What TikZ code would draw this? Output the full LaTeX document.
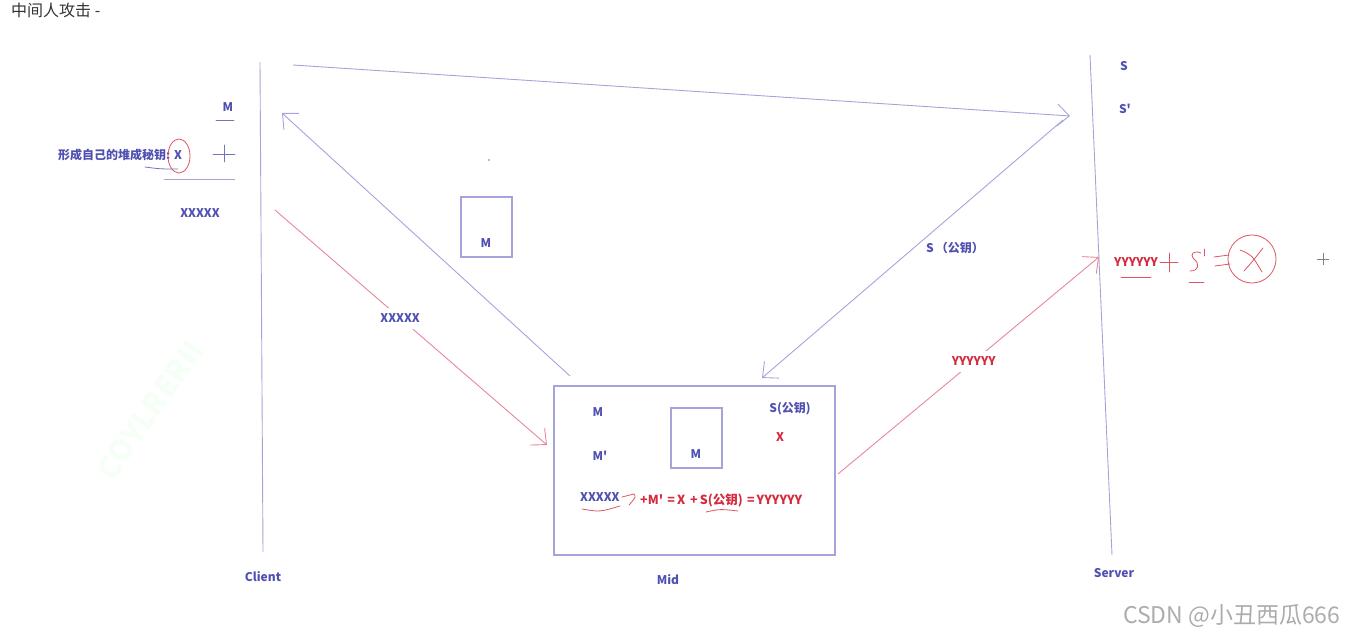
\documentclass[tikz,border=0pt]{standalone}
\usepackage{fontspec}
\setmainfont{Noto Sans CJK SC}[Ligatures=TeXOff]
\usetikzlibrary{arrows.meta}
\definecolor{tb}{HTML}{5050B2}
\definecolor{lb}{HTML}{A4A4DA}
\definecolor{tr}{HTML}{D42A3C}
\definecolor{lr}{HTML}{E6889A}
\definecolor{tg}{HTML}{333333}
\tikzset{
  lbl/.style={font=\bfseries\fontsize{12}{14}\selectfont, text=tb, inner sep=1pt},
  rlbl/.style={lbl, text=tr},
  bline/.style={draw=lb, line width=0.9pt},
  rline/.style={draw=lr, line width=0.9pt},
  barrow/.style={bline, -{Straight Barb[length=12pt,width=22pt]}},
  rarrow/.style={rline, -{Straight Barb[length=12pt,width=22pt]}},
  hand/.style={draw=tr!80, line width=0.8pt, line cap=round},
  handb/.style={draw=tb!80, line width=0.8pt, line cap=round},
  boxst/.style={draw=lb, line width=1.2pt, inner sep=0pt},
}
\begin{document}
\begin{tikzpicture}[x=1pt,y=-1pt]
\useasboundingbox (0,0) rectangle (1347,639);
% title
\node[anchor=north west, inner sep=0pt, font=\fontsize{16}{18}\selectfont, text=tg] (title) at (11,3) {中间人攻击 -};
% watermark
\node[rotate=55, font=\bfseries\fontsize{30}{32}\selectfont, text=green!4] (wm) at (150,410) {COYLRERII};
% lifelines
\coordinate (ct) at (260,62);
\coordinate (cb) at (263,552);
\coordinate (st) at (1090,55);
\coordinate (sb) at (1112,555);
\draw[bline] (ct) -- (cb);
\draw[bline] (st) -- (sb);
\node[lbl] (client) at (263,577) {Client};
\node[lbl] (server) at (1114,573) {Server};
% mid box
\node[boxst, minimum width=281pt, minimum height=169pt] (mid) at (694.5,470.5) {};
\node[lbl] (midl) at (668,580) {Mid};
% small boxes
\node[boxst, minimum width=51pt, minimum height=60pt] (boxm) at (486.5,227) {};
\node[lbl] (boxmt) at (486,243) {M};
\node[boxst, minimum width=51pt, minimum height=60pt] (boxi) at (696.5,438) {};
\node[lbl] (boxit) at (696,454) {M};
% arrow endpoints
\coordinate (a1s) at (293,65);
\coordinate (a1e) at (1070,116);
\coordinate (a2s) at (1063,120);
\coordinate (a2e) at (762,378);
\coordinate (a3s) at (570,376);
\coordinate (a3e) at (282,113);
\coordinate (a4s) at (275,210);
\coordinate (a4e) at (547,445);
\coordinate (a5s) at (838,474);
\coordinate (a5e) at (1099,257);
\draw[barrow] (a1s) -- (a1e);
\draw[barrow] (a2s) -- (a2e);
\draw[barrow] (a3s) -- (a3e);
\draw[rarrow] (a4s) -- node[lbl, fill=white, inner sep=6pt, pos=0.46] (xl) {XXXXX} (a4e);
\draw[rarrow] (a5s) -- node[rlbl, fill=white, inner sep=6pt, pos=0.52] (yl) {YYYYYY} (a5e);
\node[lbl] (spub) at (955,248) {S\,（公钥）};
% left notes
\node[lbl] (lm) at (228,107) {M};
\draw[handb] (216,120) -- (234,120);
\node[lbl, anchor=west] (key) at (57,155) {形成自己的堆成秘钥: X};
\draw[draw=tr!80, line width=0.8pt] (179,156) ellipse [x radius=11, y radius=17];
\draw[handb] (145,167) .. controls (160,169) .. (178,169);
\draw[handb] (213,154) -- (235,154);
\draw[handb] (224,145) -- (224,162);
\draw[bline] (164,179) -- (235,179);
\node[lbl] (lx) at (200,213) {XXXXX};
\fill[gray] (489,160) circle (0.8);
% mid contents
\node[lbl] (mm) at (598,412) {M};
\node[lbl] (mmp) at (600,456) {M'};
\node[lbl] (ms) at (790,409) {S(公钥)};
\node[rlbl] (mx) at (780,437) {X};
\node[lbl, anchor=west] (fx) at (579,497) {XXXXX};
\draw[hand] (622,497) .. controls (628,495) .. (634,494) .. controls (636,497) .. (629,505);
\node[rlbl, anchor=west, font=\bfseries\fontsize{12.5}{14}\selectfont] (fr) at (639,500) {+M'\,\,=\,X\ \,+\,S(公钥)\,\,=\,YYYYYY};
\draw[hand] (582,509) .. controls (600,512) .. (620,506);
\draw[hand] (706,512) .. controls (720,509) .. (738,511);
% server notes
\node[lbl] (ss) at (1124,66) {S};
\node[lbl] (ssp) at (1125,109) {S'};
\node[rlbl, anchor=west] (yy) at (1113,262) {YYYYYY};
\draw[hand] (1121,277) -- (1151,277);
\draw[hand] (1160,262) -- (1178,262);
\draw[hand] (1169,253) -- (1169,272);
\draw[hand] (1201,253) .. controls (1194,250) and (1189,254) .. (1194,259) .. controls (1200,264) and (1199,271) .. (1190,271);
\draw[hand] (1204,249) -- (1204,256);
\draw[hand] (1189,282) -- (1204,282);
\draw[hand] (1214,257) -- (1229,255);
\draw[hand] (1215,266) -- (1230,264);
\draw[draw=tr!80, line width=0.8pt] (1252,259) circle (24);
\draw[hand] (1240,250) .. controls (1252,255) .. (1262,272);
\draw[hand] (1263,248) .. controls (1252,262) .. (1244,271);
% crosshair
\draw[gray, line width=0.6pt] (1317,259) -- (1329,259) (1323,253) -- (1323,265);
% csdn watermark
\node[anchor=east, font=\fontsize{23}{25}\selectfont, text=gray!65] (csdn) at (1344,616) {CSDN @小丑西瓜666};
\end{tikzpicture}
\end{document}
